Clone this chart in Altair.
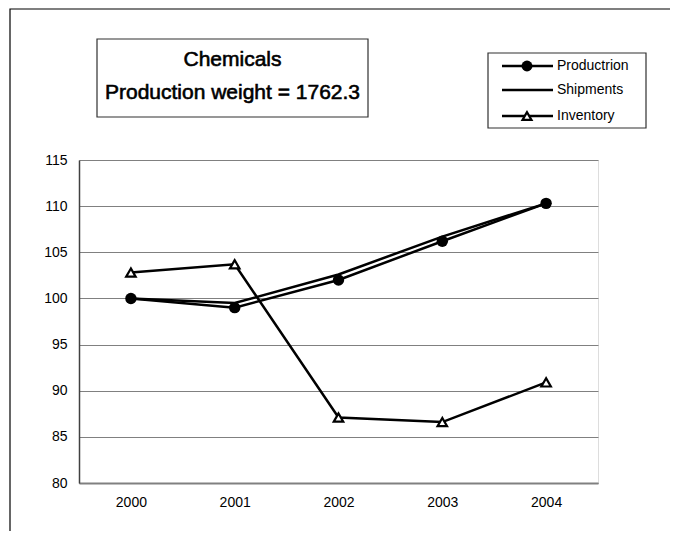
import altair as alt
import pandas as pd

years = ["2000", "2001", "2002", "2003", "2004"]
production = [100.0, 99.0, 102.0, 106.2, 110.3]
shipments = [100.0, 99.5, 102.6, 106.7, 110.3]
inventory = [102.8, 103.7, 87.1, 86.6, 90.9]

title_lines = ["Chemicals", "Production weight = 1762.3"]
legend_labels = ["Productrion", "Shipments", "Inventory"]

df = pd.DataFrame({
    "year": years * 3,
    "value": production + shipments + inventory,
    "series": [legend_labels[0]] * 5 + [legend_labels[1]] * 5 + [legend_labels[2]] * 5,
})

W, H = 519, 323
FONT = "Liberation Sans"
LW = 2.5

x_enc = alt.X("year:O", title=None,
              scale=alt.Scale(paddingInner=0, paddingOuter=0.5),
              axis=alt.Axis(labelAngle=0, labelFontSize=14, labelPadding=12, ticks=False,
                            labelColor="black", labelFont=FONT,
                            domainColor="#808080", domainWidth=2))
y_enc = alt.Y("value:Q", title=None,
              scale=alt.Scale(domain=[80, 115], nice=False, zero=False),
              axis=alt.Axis(values=[80, 85, 90, 95, 100, 105, 110, 115], labelFontSize=14,
                            labelPadding=12, ticks=False, labelColor="black", labelFont=FONT,
                            grid=True, gridColor="#808080", gridWidth=1,
                            domainColor="#404040", domainWidth=1.5))

base = alt.Chart(df)

lines = base.mark_line(color="black", strokeWidth=LW).encode(
    x=x_enc, y=y_enc, detail="series:N")

prod_pts = base.transform_filter(alt.datum.series == legend_labels[0]).mark_point(
    shape="circle", filled=True, color="black", size=130, opacity=1).encode(
    x=alt.X("year:O"), y=alt.Y("value:Q"))

inv_pts = base.transform_filter(alt.datum.series == legend_labels[2]).mark_point(
    shape="triangle-up", filled=True, fill="white", stroke="black", strokeWidth=2.2,
    size=90, opacity=1).encode(x=alt.X("year:O"), y=alt.Y("value:Q"))

one_row = pd.DataFrame({"a": [0]})

# Decorations: outer frame, title box, legend box
outer = alt.Chart(one_row).mark_rect(
    fill=None, stroke="black", strokeWidth=1.2, clip=False).encode(
    x=alt.value(-69), x2=alt.value(592), y=alt.value(-151), y2=alt.value(420))

title_box = alt.Chart(one_row).mark_rect(
    fill="white", stroke="#303030", strokeWidth=1.2).encode(
    x=alt.value(18), x2=alt.value(289), y=alt.value(-121), y2=alt.value(-43))

title_layers = []
title_y = [-100, -67]
for i, t in enumerate(title_lines):
    title_layers.append(alt.Chart(pd.DataFrame({"t": [t]})).mark_text(
        font=FONT, fontSize=21, color="black", stroke="black", strokeWidth=0.6,
        align="center", baseline="middle").encode(
        x=alt.value(153.5), y=alt.value(title_y[i]), text="t:N"))

legend_box = alt.Chart(one_row).mark_rect(
    fill="white", stroke="#303030", strokeWidth=1.2).encode(
    x=alt.value(409), x2=alt.value(567), y=alt.value(-107), y2=alt.value(-32))

leg_layers = []
row_y = [-94, -70, -44]
for i, lab in enumerate(legend_labels):
    one = alt.Chart(pd.DataFrame({"lab": [lab]}))
    leg_layers.append(one.mark_rule(color="black", strokeWidth=LW).encode(
        x=alt.value(423), x2=alt.value(474), y=alt.value(row_y[i])))
    leg_layers.append(one.mark_text(font=FONT, fontSize=14, color="black", align="left",
                                    baseline="middle").encode(
        x=alt.value(478), y=alt.value(row_y[i]), text="lab:N"))
leg_layers.append(alt.Chart(one_row).mark_point(
    shape="circle", filled=True, color="black", size=120, opacity=1).encode(
    x=alt.value(448), y=alt.value(row_y[0])))
leg_layers.append(alt.Chart(one_row).mark_point(
    shape="triangle-up", filled=True, fill="white", stroke="black", strokeWidth=2.2,
    size=80, opacity=1).encode(x=alt.value(448), y=alt.value(row_y[2])))

chart = alt.layer(
    outer, lines, prod_pts, inv_pts, title_box, *title_layers, legend_box, *leg_layers
).properties(
    width=W, height=H,
    autosize=alt.AutoSizeParams(type="none"),
    padding={"left": 71, "top": 152, "right": 72, "bottom": 48},
).configure_view(stroke="#808080", strokeWidth=1.5).configure(background="white")

chart.save("out.html", embed_options={"renderer": "svg", "actions": False})
